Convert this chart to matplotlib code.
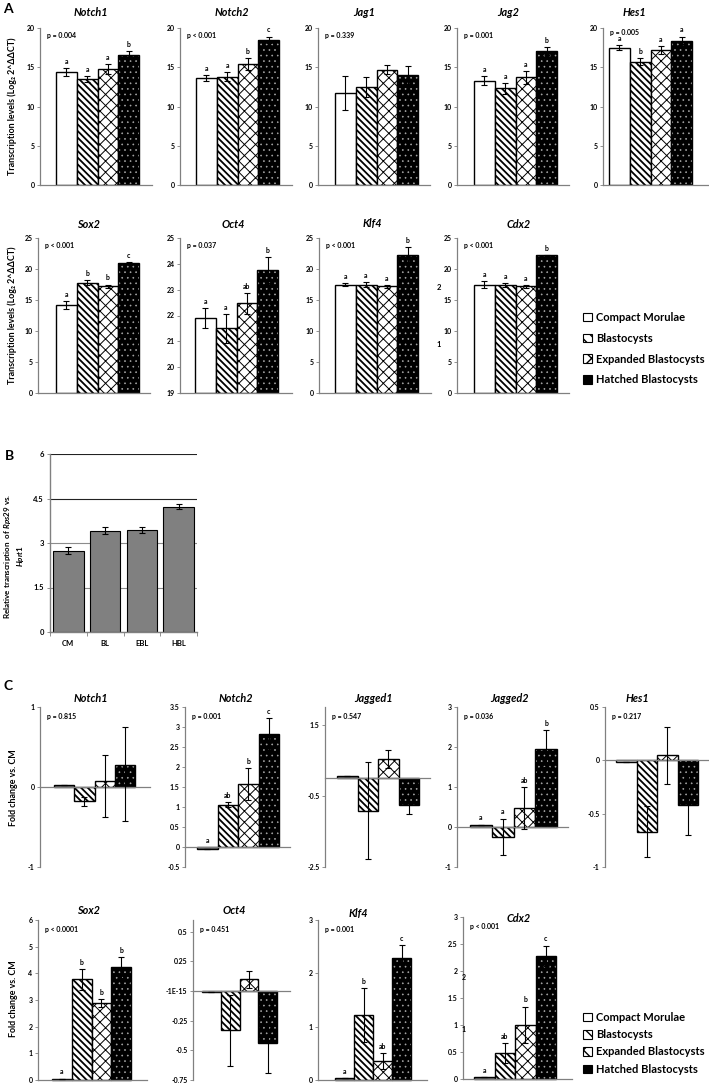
import matplotlib
matplotlib.use('Agg')
import matplotlib.pyplot as plt
from matplotlib.patches import Patch
import numpy as np

plt.rcParams['font.family'] = ['Lato', 'DejaVu Sans']
plt.rcParams['font.weight'] = 'bold'
plt.rcParams['mathtext.fontset'] = 'custom'
plt.rcParams['mathtext.rm'] = 'Lato:bold'
plt.rcParams['mathtext.it'] = 'Lato:italic:bold'
plt.rcParams['mathtext.bf'] = 'Lato:bold'

stages = ['Compact Morulae', 'Blastocysts', 'Expanded Blastocysts', 'Hatched Blastocysts']

# ---------------- panel A: transcription levels (Log2 2^ddCT)
a_genes = ['Notch1', 'Notch2', 'Jag1', 'Jag2', 'Hes1', 'Sox2', 'Oct4', 'Klf4', 'Cdx2']
a_pvals = ['p = 0.004', 'p < 0.001', 'p = 0.339', 'p = 0.001', 'p = 0.005',
           'p < 0.001', 'p = 0.037', 'p < 0.001', 'p < 0.001']
a_means = [[14.4, 13.5, 14.8, 16.6],
           [13.6, 13.8, 15.4, 18.5],
           [11.7, 12.5, 14.7, 14.0],
           [13.3, 12.3, 13.7, 17.1],
           [17.5, 15.7, 17.2, 18.4],
           [14.2, 17.75, 17.2, 20.9],
           [21.9, 21.5, 22.47, 23.76],
           [17.5, 17.5, 17.2, 22.3],
           [17.5, 17.4, 17.2, 22.2]]
a_errs = [[0.55, 0.4, 0.6, 0.5],
          [0.4, 0.6, 0.8, 0.4],
          [2.2, 1.3, 0.6, 1.1],
          [0.6, 0.7, 0.8, 0.5],
          [0.35, 0.45, 0.5, 0.5],
          [0.7, 0.4, 0.3, 0.15],
          [0.4, 0.55, 0.4, 0.5],
          [0.3, 0.4, 0.2, 1.2],
          [0.5, 0.3, 0.2, 0.05]]
a_letters = [['a', 'a', 'a', 'b'], ['a', 'a', 'b', 'c'], ['', '', '', ''],
             ['a', 'a', 'a', 'b'], ['a', 'b', 'a', 'a'], ['a', 'b', 'b', 'c'],
             ['a', 'a', 'ab', 'b'], ['a', 'a', 'a', 'b'], ['a', 'a', 'a', 'b']]
a_ylims = [(0, 20)] * 5 + [(0, 25), (19, 25), (0, 25), (0, 25)]
a_ysteps = [5] * 5 + [5, 1, 5, 5]

# ---------------- panel B: Rps29 vs Hprt1
b_labels = ['CM', 'BL', 'EBL', 'HBL']
b_means = [2.74, 3.42, 3.44, 4.23]
b_errs = [0.12, 0.13, 0.1, 0.09]
b_yticks = [0, 1.5, 3, 4.5, 6]

# ---------------- panel C: fold change vs CM
c_genes = ['Notch1', 'Notch2', 'Jagged1', 'Jagged2', 'Hes1', 'Sox2', 'Oct4', 'Klf4', 'Cdx2']
c_pvals = ['p = 0.815', 'p = 0.001', 'p = 0.547', 'p = 0.036', 'p = 0.217',
           'p < 0.0001', 'p = 0.451', 'p = 0.001', 'p < 0.001']
c_means = [[0.03, -0.18, 0.075, 0.28],
           [-0.06, 1.06, 1.58, 2.82],
           [0.05, -0.92, 0.53, -0.77],
           [0.06, -0.25, 0.48, 1.96],
           [-0.02, -0.67, 0.047, -0.42],
           [0.05, 3.79, 2.87, 4.22],
           [-0.01, -0.33, 0.1, -0.44],
           [0.03, 1.22, 0.36, 2.28],
           [0.03, 0.48, 1.0, 2.28]]
c_err_lo = [[0, 0.06, 0.445, 0.7],
            [0, 0.07, 0.4, 0.4],
            [0, 1.36, 0.25, 0.23],
            [0, 0.46, 0.52, 0.47],
            [0, 0.24, 0.27, 0.28],
            [0, 0.42, 0.15, 0.38],
            [0, 0.3, 0.07, 0.25],
            [0, 0.5, 0.15, 0.22],
            [0, 0.19, 0.34, 0.19]]
c_err_hi = [[0, 0.06, 0.325, 0.47],
            [0, 0.07, 0.4, 0.4],
            [0, 1.36, 0.25, 0.23],
            [0, 0.46, 0.52, 0.47],
            [0, 0.24, 0.27, 0.28],
            [0, 0.38, 0.15, 0.38],
            [0, 0.3, 0.07, 0.25],
            [0, 0.5, 0.15, 0.25],
            [0, 0.19, 0.34, 0.19]]
c_letters = [['', '', '', ''], ['a', 'ab', 'b', 'c'], ['', '', '', ''],
             ['a', 'a', 'ab', 'b'], ['', '', '', ''], ['a', 'b', 'b', 'b'],
             ['', '', '', ''], ['a', 'b', 'ab', 'c'], ['a', 'ab', 'b', 'c']]
c_ylims = [(-1, 1), (-0.5, 3.5), (-2.5, 2.0), (-1, 3), (-1, 0.5),
           (0, 6), (-0.75, 0.6), (0, 3), (0, 3)]
c_yticks = [[-1, 0, 1], np.arange(-0.5, 3.51, 0.5), [-2.5, -0.5, 1.5], [-1, 0, 1, 2, 3],
            [-1, -0.5, 0, 0.5], [0, 1, 2, 3, 4, 5, 6], [-0.75, -0.5, -0.25, 0, 0.25, 0.5],
            [0, 1, 2, 3], np.arange(0, 3.01, 0.5)]

# ---------------- layout (pixels in a 709 x 1083 canvas)
W, H = 709, 1083
a_left = [40, 180, 318, 457, 603, 38, 180, 319, 457]
a_right = [152, 292, 430, 569, 709, 150, 292, 431, 569]
a_group = [56, 196, 335, 474, 609, 56, 195, 335, 474]
a_top = [28] * 5 + [238] * 4
a_bottom = [185] * 5 + [393] * 4
a_title_x = [91, 232, 364, 508, 634, 88, 233, 372, 519]
a_title_y = [12] * 5 + [224] * 4
a_pval_dy = [-3, -3, -3, -3, -0.8, -3, -3, -3, -3]

c_left = [40, 185, 325, 457, 605, 38, 193, 318, 463]
c_right = [150, 290, 430, 568, 709, 147, 290, 427, 572]
c_group = [54, 197, 337, 470, 616, 52, 202, 335, 474]
c_group_end = [135, 279, 419, 557, 698, 131, 277, 411, 556]
c_top = [707] * 5 + [920, 920, 920, 917]
c_bottom = [867] * 5 + [1080, 1080, 1080, 1079]
c_title_x = [91, 236, 373, 509, 637, 88, 234, 358, 519]
c_title_y = [698] * 5 + [911, 911, 913, 919]

GREY = '#808080'

fig = plt.figure(figsize=(W / 100, H / 100), dpi=100)


def px_axes(left, top, right, bottom):
    return fig.add_axes([left / W, 1 - bottom / H, (right - left) / W, (bottom - top) / H])


def set_hlw(patch, lw):
    if hasattr(patch, 'set_hatch_linewidth'):
        patch.set_hatch_linewidth(lw)
    else:
        patch._hatch_linewidth = lw


def style_axes(ax):
    for s in ['top', 'right']:
        ax.spines[s].set_visible(False)
    for s in ['left', 'bottom']:
        ax.spines[s].set_color(GREY)
        ax.spines[s].set_linewidth(0.9)
    ax.tick_params(axis='y', direction='out', length=2.5, width=0.6, color=GREY,
                   labelsize=5, pad=1.5)
    ax.tick_params(axis='x', length=0, labelbottom=False)


def draw_group(ax, means, lo, hi, base, cm_face):
    xs = np.arange(4) - 1.5
    for i, (x, m) in enumerate(zip(xs, means)):
        h = m - base
        if i == 0:
            ax.bar(x, h, 1, bottom=base, color=cm_face, edgecolor='black', linewidth=1, zorder=2)
        elif i == 1:
            b = ax.bar(x, h, 1, bottom=base, color='white', edgecolor='black',
                       hatch='\\\\\\\\\\', linewidth=1, zorder=2)
            set_hlw(b[0], 1.3)
        elif i == 2:
            b = ax.bar(x, h, 1, bottom=base, color='white', edgecolor='black',
                       hatch='xxx', linewidth=1, zorder=2)
            set_hlw(b[0], 0.7)
        else:
            b = ax.bar(x, h, 1, bottom=base, color='black', edgecolor='#a8a8a8',
                       hatch='...', linewidth=0, zorder=2)
            set_hlw(b[0], 0.45)
            ax.bar(x, h, 1, bottom=base, fill=False, edgecolor='black', linewidth=1, zorder=2)
    ax.errorbar(xs, means, yerr=[lo, hi], fmt='none', ecolor='black', elinewidth=0.8,
                capsize=2, capthick=0.8, zorder=4)
    return xs


def add_letters(ax, xs, means, hi, letters):
    y0, y1 = ax.get_ylim()
    for x, m, e, t in zip(xs, means, hi, letters):
        if t:
            ax.text(x, max(m + e, 0) + 0.02 * (y1 - y0), t, ha='center', va='bottom',
                    fontsize=5, zorder=5)


def fmt(v):
    return '{:g}'.format(v)


# ---------------- panel A
for k in range(9):
    ax = px_axes(a_left[k], a_top[k], a_right[k], a_bottom[k])
    style_axes(ax)
    u = 83 / 4
    x0 = -2 - (a_group[k] - a_left[k]) / u
    ax.set_xlim(x0, x0 + (a_right[k] - a_left[k]) / u)
    ax.set_ylim(*a_ylims[k])
    ticks = np.arange(a_ylims[k][0], a_ylims[k][1] + 0.01, a_ysteps[k])
    ax.set_yticks(ticks)
    ax.set_yticklabels([fmt(t) for t in ticks])
    xs = draw_group(ax, a_means[k], a_errs[k], a_errs[k], a_ylims[k][0], 'white')
    add_letters(ax, xs, a_means[k], a_errs[k], a_letters[k])
    ax.annotate(a_pvals[k], (0, 1), xycoords='axes fraction', xytext=(5, a_pval_dy[k]),
                textcoords='offset points', ha='left', va='top', fontsize=5)
    fig.text(a_title_x[k] / W, 1 - a_title_y[k] / H, a_genes[k], ha='center', va='center',
             fontsize=7.8, style='italic', fontweight='bold')

for yc in [106, 315]:
    fig.text(12 / W, 1 - yc / H, 'Transcription levels (Log\u2082 2^\u0394\u0394CT)', rotation=90,
             ha='center', va='center', fontsize=6.4)

# stray labels left of the Cdx2 axis in panel A
fig.text(439 / W, 1 - 287 / H, '2', ha='center', va='center', fontsize=5.5)
fig.text(439 / W, 1 - 344 / H, '1', ha='center', va='center', fontsize=5.5)

# ---------------- panel B
axb = px_axes(50, 454, 197, 632)
axb.bar(np.arange(4), b_means, 0.83, color=GREY, edgecolor='black', linewidth=0.8, zorder=2)
axb.errorbar(np.arange(4), b_means, yerr=b_errs, fmt='none', ecolor='black', elinewidth=0.8,
             capsize=2, capthick=0.8, zorder=4)
axb.set_xlim(-0.5, 3.5)
axb.set_ylim(0, 6)
axb.set_yticks(b_yticks)
axb.set_yticklabels([fmt(t) for t in b_yticks])
axb.set_xticks(np.arange(4))
axb.set_xticklabels(b_labels)
axb.set_xticks(np.arange(-0.5, 3.6, 1), minor=True)
axb.yaxis.grid(True, linewidth=0.8)
for t, gl in zip(b_yticks, axb.get_ygridlines()):
    gl.set_color('#222222' if t >= 4.5 else '#8c8c8c')
axb.set_axisbelow(True)
for s in ['top', 'right']:
    axb.spines[s].set_visible(False)
for s in ['left', 'bottom']:
    axb.spines[s].set_color(GREY)
    axb.spines[s].set_linewidth(1)
axb.tick_params(axis='y', direction='out', length=2.5, width=0.6, color=GREY, labelsize=5.5, pad=2)
axb.tick_params(axis='x', which='major', length=0, labelsize=5.5, pad=6)
axb.tick_params(axis='x', which='minor', direction='out', length=3, width=0.6, color=GREY)
fig.text(14 / W, 1 - 556 / H,
         '$\\mathbf{Relative\\ transcription\\ \\ of\\ }\\mathit{Rps29}\\mathbf{\\ vs.}$\n'
         '$\\mathit{Hprt1}$',
         rotation=90, ha='center', va='center', fontsize=5.8, multialignment='center')

# ---------------- panel C
for k in range(9):
    ax = px_axes(c_left[k], c_top[k], c_right[k], c_bottom[k])
    style_axes(ax)
    ax.spines['bottom'].set_position(('data', 0))
    u = (c_group_end[k] - c_group[k]) / 4
    x0 = -2 - (c_group[k] - c_left[k]) / u
    ax.set_xlim(x0, x0 + (c_right[k] - c_left[k]) / u)
    ax.set_ylim(*c_ylims[k])
    ax.set_yticks(c_yticks[k])
    labels = [fmt(t) for t in c_yticks[k]]
    if c_genes[k] == 'Oct4':
        labels = ['-1E-15' if t == 0 else l for t, l in zip(c_yticks[k], labels)]
    ax.set_yticklabels(labels)
    cm_face = 'white' if c_genes[k] == 'Hes1' else GREY
    xs = draw_group(ax, c_means[k], c_err_lo[k], c_err_hi[k], 0, cm_face)
    for p in ax.patches:
        p.set_clip_on(False)
    add_letters(ax, xs, c_means[k], c_err_hi[k], c_letters[k])
    ax.annotate(c_pvals[k], (0, 1), xycoords='axes fraction', xytext=(5, -4),
                textcoords='offset points', ha='left', va='top', fontsize=5)
    fig.text(c_title_x[k] / W, 1 - c_title_y[k] / H, c_genes[k], ha='center', va='center',
             fontsize=7.8, style='italic', fontweight='bold')

for yc in [788, 999]:
    fig.text(14 / W, 1 - yc / H, 'Fold change vs. CM', rotation=90,
             ha='center', va='center', fontsize=6.4)

# stray labels next to the Cdx2 ticks in panel C
fig.text(464 / W, 1 - 977 / H, '2', ha='center', va='center', fontsize=5)
fig.text(464 / W, 1 - 1030 / H, '1', ha='center', va='center', fontsize=5)

# ---------------- legends
handles = [Patch(facecolor='white', edgecolor='black', linewidth=0.8),
           Patch(facecolor='white', edgecolor='black', hatch='\\\\\\', linewidth=0.8),
           Patch(facecolor='white', edgecolor='black', hatch='xx', linewidth=0.8),
           Patch(facecolor='black', edgecolor='black', linewidth=0.8)]
fig.legend(handles, stages, loc='upper left', bbox_to_anchor=(583 / W, 1 - 312 / H),
           frameon=False, fontsize=8, handlelength=0.8, handleheight=0.8,
           handletextpad=0.35, labelspacing=0.88, borderpad=0, borderaxespad=0)
fig.legend(handles, stages, loc='upper left', bbox_to_anchor=(583 / W, 1 - 1012 / H),
           frameon=False, fontsize=8, handlelength=0.8, handleheight=0.8,
           handletextpad=0.35, labelspacing=0.56, borderpad=0, borderaxespad=0)

# ---------------- panel letters
fig.text(3 / W, 1 - 9 / H, 'A', ha='left', va='center', fontsize=10)
fig.text(5 / W, 1 - 456 / H, 'B', ha='left', va='center', fontsize=10)
fig.text(4 / W, 1 - 686 / H, 'C', ha='left', va='center', fontsize=10)

plt.savefig('out.png', dpi=100)
